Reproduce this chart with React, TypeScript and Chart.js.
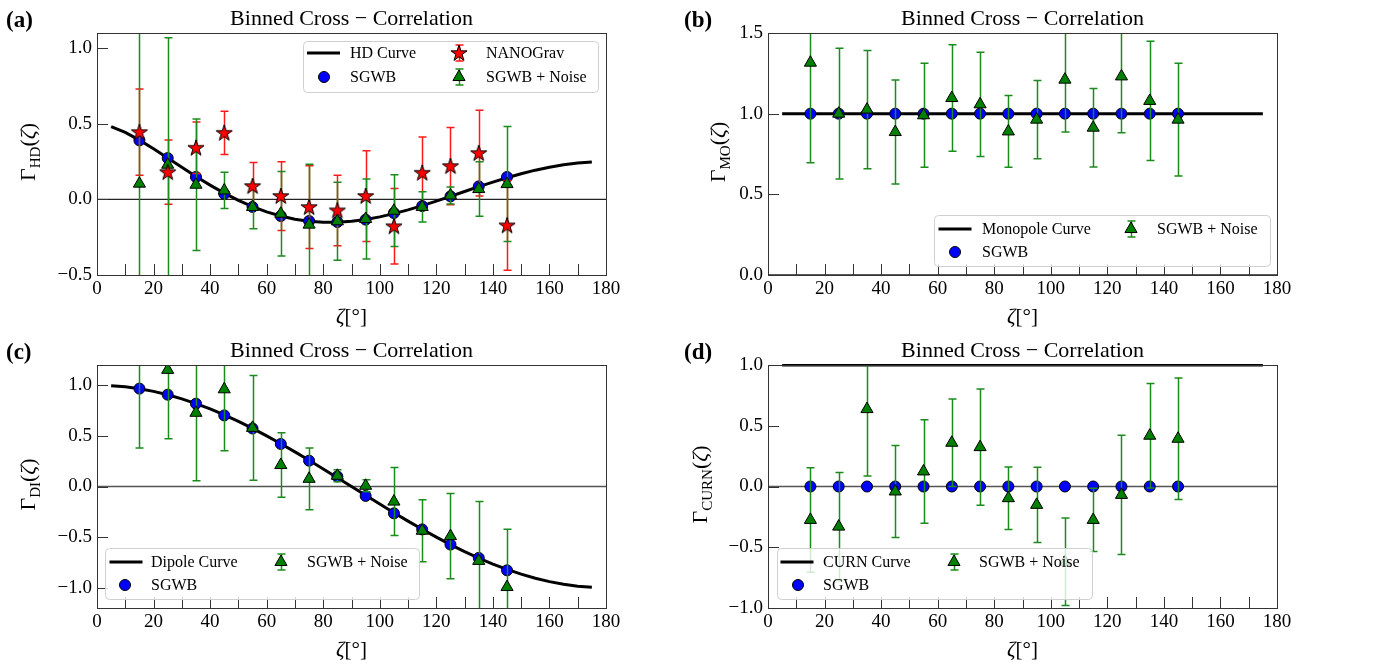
import React, { useEffect, useRef } from "react";
import { Chart, registerables } from "chart.js";
Chart.register(...registerables);

const SERIF = '"Liberation Serif", "DejaVu Serif", serif';

// ---------- data ----------
const binAngles = [15, 25, 35, 45, 55, 65, 75, 85, 95, 105, 115, 125, 135, 145];
const curveAngles = [5, 10, 15, 20, 25, 30, 35, 40, 45, 50, 55, 60, 65, 70, 75, 80, 85, 90, 95, 100, 105, 110, 115, 120, 125, 130, 135, 140, 145, 150, 155, 160, 165, 170, 175];
const flatCurveAngles = [5, 175];
const zeroLineX = [0, 180];
const zeroLineY = [0, 0];

// (a) Hellings-Downs
const hdCurve = [0.4816, 0.4425, 0.3917, 0.3341, 0.2732, 0.2116, 0.1514, 0.0942, 0.0414, -0.0061, -0.0476, -0.0824, -0.1102, -0.1309, -0.1445, -0.1511, -0.1511, -0.1449, -0.1329, -0.1159, -0.0945, -0.0693, -0.0413, -0.0111, 0.0203, 0.0522, 0.0839, 0.1145, 0.1433, 0.1697, 0.1931, 0.213, 0.2289, 0.2405, 0.2476];
const hdSgwb = [0.39, 0.273, 0.148, 0.037, -0.05, -0.11, -0.143, -0.15, -0.134, -0.09, -0.044, 0.02, 0.086, 0.148];
const nanogravVals = [0.445, 0.18, 0.341, 0.44, 0.088, 0.022, -0.051, -0.073, 0.022, -0.178, 0.176, 0.22, 0.306, -0.172];
const nanogravErr = [0.285, 0.213, 0.17, 0.143, 0.155, 0.227, 0.273, 0.233, 0.3, 0.25, 0.236, 0.255, 0.283, 0.297];
const hdNoiseVals = [0.104, 0.229, 0.097, 0.059, -0.05, -0.095, -0.167, -0.145, -0.13, -0.075, -0.05, 0.026, 0.068, 0.101];
const hdNoiseErr = [1.15, 0.84, 0.435, 0.12, 0.145, 0.28, 0.4, 0.258, 0.265, 0.237, 0.1, 0.056, 0.18, 0.38];

// (b) Monopole
const monoCurve = [1, 1];
const monoSgwb = [1, 1, 1, 1, 1, 1, 1, 1, 1, 1, 1, 1, 1, 1];
const monoNoiseVals = [1.316, 1.0, 1.025, 0.886, 0.99, 1.097, 1.058, 0.89, 0.963, 1.211, 0.913, 1.231, 1.079, 0.963];
const monoNoiseErr = [0.62, 0.405, 0.367, 0.322, 0.322, 0.33, 0.323, 0.222, 0.242, 0.325, 0.243, 0.35, 0.37, 0.35];

// (c) Dipole
const dipoleCurve = [0.9962, 0.9848, 0.9659, 0.9397, 0.9063, 0.866, 0.8192, 0.766, 0.7071, 0.6428, 0.5736, 0.5, 0.4226, 0.342, 0.2588, 0.1736, 0.0872, 0, -0.0872, -0.1736, -0.2588, -0.342, -0.4226, -0.5, -0.5736, -0.6428, -0.7071, -0.766, -0.8192, -0.866, -0.9063, -0.9397, -0.9659, -0.9848, -0.9962];
const dipoleSgwb = [0.967, 0.907, 0.818, 0.702, 0.573, 0.42, 0.255, 0.099, -0.093, -0.265, -0.424, -0.573, -0.705, -0.828];
const dipoleNoiseVals = [1.35, 1.152, 0.728, 0.96, 0.579, 0.212, 0.076, 0.106, 0.007, -0.149, -0.437, -0.49, -0.735, -0.993];
const dipoleNoiseErr = [0.97, 0.68, 0.672, 0.606, 0.517, 0.318, 0.305, 0.06, 0.06, 0.336, 0.306, 0.42, 0.586, 0.57];

// (d) CURN
const curnCurve = [1, 1];
const curnSgwb = [0, 0, 0, 0, 0, 0, 0, 0, 0, 0, 0, 0, 0, 0];
const curnNoiseVals = [-0.275, -0.33, 0.637, -0.041, 0.124, 0.36, 0.324, -0.096, -0.151, -0.62, -0.275, -0.069, 0.418, 0.393];
const curnNoiseErr = [0.43, 0.445, 0.55, 0.378, 0.426, 0.36, 0.478, 0.257, 0.31, 0.36, 0.26, 0.49, 0.43, 0.5];

const xMinorTicks = [10, 20, 30, 40, 50, 60, 70, 80, 90, 100, 110, 120, 130, 140, 150, 160, 170];

// ---------- panel configuration ----------
type LegendItem = { kind: string; cx: number; cy: number; tx: number; label: string };
type PanelCfg = {
  id: string;
  letter: string;
  canvas: { left: number; top: number; w: number; h: number };
  area: { l: number; r: number; t: number; b: number };
  ymin: number;
  ymax: number;
  sub: string;
  ylabelX: number;
  curveX: number[];
  curveY: number[];
  curveLabel: string;
  sgwb: number[];
  noiseVals: number[];
  noiseErr: number[];
  starVals?: number[];
  starErr?: number[];
  zeroColor: string;
  legendBox: { x: number; y: number; w: number; h: number };
  legend: LegendItem[];
};

const panels: PanelCfg[] = [
  {
    id: "a", letter: "(a)",
    canvas: { left: 0, top: 0, w: 670, h: 332 },
    area: { l: 97, r: 606, t: 33, b: 275 },
    ymin: -0.5, ymax: 1.1, sub: "HD", ylabelX: 35,
    curveX: curveAngles, curveY: hdCurve, curveLabel: "HD Curve",
    sgwb: hdSgwb, noiseVals: hdNoiseVals, noiseErr: hdNoiseErr,
    starVals: nanogravVals, starErr: nanogravErr, zeroColor: "#222",
    legendBox: { x: 303, y: 41, w: 295, h: 51 },
    legend: [
      { kind: "line", cx: 323.5, cy: 53, tx: 350, label: "HD Curve" },
      { kind: "circle", cx: 324, cy: 77, tx: 350, label: "SGWB" },
      { kind: "star", cx: 459, cy: 53, tx: 486, label: "NANOGrav" },
      { kind: "triangle", cx: 459, cy: 77, tx: 486, label: "SGWB + Noise" },
    ],
  },
  {
    id: "b", letter: "(b)",
    canvas: { left: 670, top: 0, w: 705, h: 332 },
    area: { l: 768, r: 1277, t: 33, b: 275 },
    ymin: 0, ymax: 1.5, sub: "MO", ylabelX: 725,
    curveX: flatCurveAngles, curveY: monoCurve, curveLabel: "Monopole Curve",
    sgwb: monoSgwb, noiseVals: monoNoiseVals, noiseErr: monoNoiseErr, zeroColor: "#222",
    legendBox: { x: 934, y: 215, w: 336, h: 51 },
    legend: [
      { kind: "line", cx: 955, cy: 229, tx: 982, label: "Monopole Curve" },
      { kind: "circle", cx: 955, cy: 252, tx: 982, label: "SGWB" },
      { kind: "triangle", cx: 1131, cy: 229, tx: 1157, label: "SGWB + Noise" },
    ],
  },
  {
    id: "c", letter: "(c)",
    canvas: { left: 0, top: 332, w: 670, h: 332 },
    area: { l: 97, r: 606, t: 365, b: 608 },
    ymin: -1.2, ymax: 1.2, sub: "DI", ylabelX: 35,
    curveX: curveAngles, curveY: dipoleCurve, curveLabel: "Dipole Curve",
    sgwb: dipoleSgwb, noiseVals: dipoleNoiseVals, noiseErr: dipoleNoiseErr, zeroColor: "#555",
    legendBox: { x: 105, y: 548, w: 314, h: 51 },
    legend: [
      { kind: "line", cx: 126, cy: 562, tx: 151, label: "Dipole Curve" },
      { kind: "circle", cx: 125, cy: 585, tx: 151, label: "SGWB" },
      { kind: "triangle", cx: 281, cy: 562, tx: 307, label: "SGWB + Noise" },
    ],
  },
  {
    id: "d", letter: "(d)",
    canvas: { left: 670, top: 332, w: 705, h: 332 },
    area: { l: 768, r: 1277, t: 365, b: 608 },
    ymin: -1, ymax: 1, sub: "CURN", ylabelX: 707,
    curveX: flatCurveAngles, curveY: curnCurve, curveLabel: "CURN Curve",
    sgwb: curnSgwb, noiseVals: curnNoiseVals, noiseErr: curnNoiseErr, zeroColor: "#555",
    legendBox: { x: 777, y: 548, w: 315, h: 51 },
    legend: [
      { kind: "line", cx: 797, cy: 562, tx: 823, label: "CURN Curve" },
      { kind: "circle", cx: 798, cy: 585, tx: 823, label: "SGWB" },
      { kind: "triangle", cx: 954, cy: 562, tx: 979, label: "SGWB + Noise" },
    ],
  },
];

// ---------- drawing helpers ----------
const GREEN = "#008000";
const GREEN_BAR = "#1b8c1b";
const RED_BAR = "#ff1a1a";
const CIRCLE_R = 5.5;
const TRI_R = 7;

function makeStar(): HTMLCanvasElement {
  const R = 8.5, r = R * 0.382, s = 2 * Math.ceil(R) + 4;
  const c = document.createElement("canvas");
  c.width = s; c.height = s;
  const g = c.getContext("2d")!;
  g.translate(s / 2, s / 2 + 0.5);
  g.beginPath();
  for (let k = 0; k < 10; k++) {
    const rad = k % 2 === 0 ? R : r;
    const a = -Math.PI / 2 + (k * Math.PI) / 5;
    const px = rad * Math.cos(a), py = rad * Math.sin(a);
    if (k === 0) g.moveTo(px, py); else g.lineTo(px, py);
  }
  g.closePath();
  g.fillStyle = "#ff0000";
  g.fill();
  g.lineWidth = 1;
  g.strokeStyle = "#000";
  g.stroke();
  return c;
}

type Part = { t: string; size: number; italic?: boolean; bold?: boolean; dy?: number };
function fontOf(p: Part) {
  return `${p.italic ? "italic " : ""}${p.bold ? "bold " : ""}${p.size}px ${SERIF}`;
}
function drawRich(ctx: CanvasRenderingContext2D, parts: Part[], x: number, y: number, rotate: boolean) {
  ctx.save();
  ctx.translate(x, y);
  if (rotate) ctx.rotate(-Math.PI / 2);
  let total = 0;
  const ws = parts.map((p) => {
    ctx.font = fontOf(p);
    const w = ctx.measureText(p.t).width;
    total += w;
    return w;
  });
  let cx = -total / 2;
  ctx.textBaseline = "alphabetic";
  ctx.textAlign = "left";
  ctx.fillStyle = "#000";
  parts.forEach((p, i) => {
    ctx.font = fontOf(p);
    ctx.fillText(p.t, cx, p.dy || 0);
    cx += ws[i];
  });
  ctx.restore();
}

function drawTriangle(ctx: CanvasRenderingContext2D, x: number, y: number, radius: number) {
  ctx.beginPath();
  let rad = 0;
  ctx.moveTo(x + Math.sin(rad) * radius, y - Math.cos(rad) * radius);
  rad += (2 * Math.PI) / 3;
  ctx.lineTo(x + Math.sin(rad) * radius, y - Math.cos(rad) * radius);
  rad += (2 * Math.PI) / 3;
  ctx.lineTo(x + Math.sin(rad) * radius, y - Math.cos(rad) * radius);
  ctx.closePath();
  ctx.fillStyle = GREEN;
  ctx.fill();
  ctx.lineWidth = 1;
  ctx.strokeStyle = "#000";
  ctx.stroke();
}

function drawErrorSet(chart: any, xs: number[], vals: number[], errs: number[], color: string) {
  const ctx = chart.ctx as CanvasRenderingContext2D;
  const xScale = chart.scales.x, yScale = chart.scales.y;
  const a = chart.chartArea;
  ctx.save();
  ctx.beginPath();
  ctx.rect(a.left, a.top, a.right - a.left, a.bottom - a.top);
  ctx.clip();
  ctx.strokeStyle = color;
  ctx.lineWidth = 1.5;
  const cap = 4;
  xs.forEach((xv, i) => {
    const px = Math.round(xScale.getPixelForValue(xv)) + 0.5;
    const y1 = yScale.getPixelForValue(vals[i] + errs[i]);
    const y2 = yScale.getPixelForValue(vals[i] - errs[i]);
    ctx.beginPath();
    ctx.moveTo(px, y1); ctx.lineTo(px, y2);
    ctx.moveTo(px - cap, y1); ctx.lineTo(px + cap, y1);
    ctx.moveTo(px - cap, y2); ctx.lineTo(px + cap, y2);
    ctx.stroke();
  });
  ctx.restore();
}

function buildChart(canvas: HTMLCanvasElement, p: PanelCfg) {
  const ox = p.canvas.left, oy = p.canvas.top;
  const star = makeStar();
  const pts = (xs: number[], ys: number[]) => xs.map((x, i) => ({ x, y: ys[i] }));
  const datasets: any[] = [];
  if (p.starVals) {
    datasets.push({ label: "NANOGrav", data: pts(binAngles, p.starVals), pointStyle: star, pointRadius: 8, showLine: false, clip: 0 });
  }
  datasets.push({ label: "SGWB + Noise", data: pts(binAngles, p.noiseVals), pointStyle: "triangle", pointRadius: TRI_R, backgroundColor: GREEN, borderColor: "#000", borderWidth: 1, showLine: false, clip: 0 });
  datasets.push({ label: "SGWB", data: pts(binAngles, p.sgwb), pointStyle: "circle", pointRadius: CIRCLE_R, backgroundColor: "#0000ff", borderColor: "#000", borderWidth: 1, showLine: false, clip: 0 });
  datasets.push({ label: p.curveLabel, data: pts(p.curveX, p.curveY), showLine: true, pointRadius: 0, borderColor: "#000", borderWidth: 3, clip: 1 });
  datasets.push({ label: "zero", data: pts(zeroLineX, zeroLineY), showLine: true, pointRadius: 0, borderColor: p.zeroColor, borderWidth: 1.3, clip: 0 });

  const yAxisW = p.area.l - ox;
  const xAxisH = oy + p.canvas.h - p.area.b;

  const plugin = {
    id: "decor" + p.id,
    beforeDatasetDraw(chart: any, args: any) {
      if (chart.data.datasets[args.index].label !== "SGWB + Noise") return;
      if (p.starVals && p.starErr) drawErrorSet(chart, binAngles, p.starVals, p.starErr, RED_BAR);
      drawErrorSet(chart, binAngles, p.noiseVals, p.noiseErr, GREEN_BAR);
    },
    afterDatasetsDraw(chart: any) {
      const ctx = chart.ctx as CanvasRenderingContext2D;
      const a = chart.chartArea;
      const xs = chart.scales.x, ys = chart.scales.y;
      ctx.save();
      // frame
      ctx.strokeStyle = "#333";
      ctx.lineWidth = 1;
      ctx.strokeRect(Math.round(a.left) + 0.5, Math.round(a.top) + 0.5, Math.round(a.right - a.left), Math.round(a.bottom - a.top));
      // ticks inward
      ctx.beginPath();
      xMinorTicks.forEach((v) => {
        const px = Math.round(xs.getPixelForValue(v)) + 0.5;
        ctx.moveTo(px, a.bottom);
        ctx.lineTo(px, a.bottom - 11);
      });
      ys.ticks.forEach((t: any) => {
        const py = Math.round(ys.getPixelForValue(t.value)) + 0.5;
        ctx.moveTo(a.left, py);
        ctx.lineTo(a.left + 11, py);
      });
      ctx.stroke();
      // legend
      const b = p.legendBox;
      ctx.beginPath();
      ctx.roundRect(b.x - ox + 0.5, b.y - oy + 0.5, b.w, b.h, 4);
      ctx.fillStyle = "rgba(255,255,255,0.8)";
      ctx.fill();
      ctx.strokeStyle = "#d0d0d0";
      ctx.lineWidth = 1;
      ctx.stroke();
      p.legend.forEach((it) => {
        const cx = it.cx - ox, cy = it.cy - oy;
        if (it.kind === "line") {
          ctx.beginPath();
          ctx.moveTo(cx - 16.5, cy);
          ctx.lineTo(cx + 16.5, cy);
          ctx.strokeStyle = "#000";
          ctx.lineWidth = 3;
          ctx.stroke();
        } else if (it.kind === "circle") {
          ctx.beginPath();
          ctx.arc(cx, cy, CIRCLE_R, 0, Math.PI * 2);
          ctx.fillStyle = "#0000ff";
          ctx.fill();
          ctx.lineWidth = 1;
          ctx.strokeStyle = "#000";
          ctx.stroke();
        } else {
          const col = it.kind === "star" ? RED_BAR : GREEN_BAR;
          ctx.beginPath();
          ctx.strokeStyle = col;
          ctx.lineWidth = 1.5;
          const px = Math.round(cx) + 0.5;
          ctx.moveTo(px, cy - 8); ctx.lineTo(px, cy + 8);
          ctx.moveTo(px - 4, cy - 8); ctx.lineTo(px + 4, cy - 8);
          ctx.moveTo(px - 4, cy + 8); ctx.lineTo(px + 4, cy + 8);
          ctx.stroke();
          if (it.kind === "star") ctx.drawImage(star, cx - star.width / 2, cy - star.height / 2);
          else drawTriangle(ctx, cx, cy, TRI_R);
        }
        ctx.font = `16px ${SERIF}`;
        ctx.fillStyle = "#000";
        ctx.textAlign = "left";
        ctx.textBaseline = "middle";
        ctx.fillText(it.label, it.tx - ox, cy + 1);
      });
      ctx.restore();
    },
    afterDraw(chart: any) {
      const ctx = chart.ctx as CanvasRenderingContext2D;
      const a = chart.chartArea;
      const midX = (a.left + a.right) / 2;
      const midY = (a.top + a.bottom) / 2;
      // title
      drawRich(ctx, [{ t: "Binned Cross \u2212 Correlation", size: 22 }], midX, a.top - 8, false);
      // x label
      drawRich(ctx, [{ t: "\u03b6", size: 21, italic: true }, { t: "[\u00b0]", size: 21 }], midX, a.bottom + 48, false);
      // y label
      drawRich(
        ctx,
        [
          { t: "\u0393", size: 22 },
          { t: p.sub, size: 15, dy: 5 },
          { t: "(", size: 22 },
          { t: "\u03b6", size: 22, italic: true },
          { t: ")", size: 22 },
        ],
        p.ylabelX - ox,
        midY - 2,
        true
      );
      // panel letter
      ctx.save();
      ctx.font = `bold 23px ${SERIF}`;
      ctx.fillStyle = "#000";
      ctx.textAlign = "left";
      ctx.textBaseline = "alphabetic";
      const lx = p.id === "a" || p.id === "c" ? 6 : 684;
      ctx.fillText(p.letter, lx - ox, a.top - 6);
      ctx.restore();
    },
  };

  return new Chart(canvas, {
    type: "scatter",
    data: { datasets },
    options: {
      responsive: false,
      animation: false,
      devicePixelRatio: 1,
      events: [],
      layout: { padding: { left: 0, top: p.area.t - oy, right: ox + p.canvas.w - p.area.r, bottom: 0 } },
      plugins: { legend: { display: false }, tooltip: { enabled: false }, title: { display: false } },
      scales: {
        x: {
          type: "linear",
          min: 0,
          max: 180,
          grid: { display: false, drawTicks: false },
          border: { display: false },
          afterFit: (s: any) => { s.height = xAxisH; },
          ticks: {
            stepSize: 20,
            autoSkip: false,
            maxRotation: 0,
            padding: 3,
            color: "#000",
            font: { family: SERIF, size: 19 },
            callback: (v: any) => String(v),
          },
        },
        y: {
          type: "linear",
          min: p.ymin,
          max: p.ymax,
          grid: { display: false, drawTicks: false },
          border: { display: false },
          afterFit: (s: any) => { s.width = yAxisW; },
          ticks: {
            stepSize: 0.5,
            includeBounds: false,
            padding: 5,
            color: "#000",
            font: { family: SERIF, size: 19 },
            callback: (v: any) => {
              const n = Number(v);
              return (n < -1e-9 ? "\u2212" : "") + Math.abs(n).toFixed(1);
            },
          },
        },
      },
    },
    plugins: [plugin],
  } as any);
}

function Panel({ cfg }: { cfg: PanelCfg }) {
  const ref = useRef<HTMLCanvasElement>(null);
  useEffect(() => {
    if (!ref.current) return;
    const chart = buildChart(ref.current, cfg);
    return () => chart.destroy();
  }, [cfg]);
  return (
    <canvas
      ref={ref}
      width={cfg.canvas.w}
      height={cfg.canvas.h}
      style={{ position: "absolute", left: cfg.canvas.left, top: cfg.canvas.top, width: cfg.canvas.w, height: cfg.canvas.h, display: "block" }}
    />
  );
}

export default function App() {
  return (
    <div style={{ position: "absolute", left: 0, top: 0, width: 1375, height: 664, background: "#fff", overflow: "hidden" }}>
      {panels.map((p) => (
        <Panel key={p.id} cfg={p} />
      ))}
    </div>
  );
}
